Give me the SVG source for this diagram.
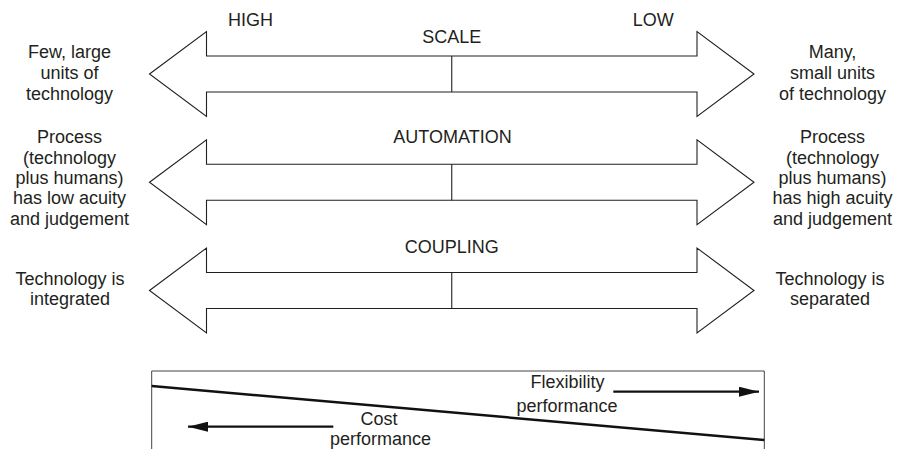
<svg xmlns="http://www.w3.org/2000/svg" width="903" height="449" viewBox="0 0 903 449">
  <style>
    .t { font-family: "Liberation Sans", Arial, sans-serif; font-size: 18px; fill: #231f20; text-anchor: middle; }
    .dbl { fill: #ffffff; stroke: #231f20; stroke-width: 1.1; stroke-linejoin: miter; }
    .tick { stroke: #231f20; stroke-width: 1.1; }
    .box { fill: none; stroke: #444; stroke-width: 1; }
    .diag { stroke: #111; stroke-width: 2.5; }
    .conn { stroke: #111; stroke-width: 2.2; fill: none; }
  </style>
  <defs>
    <polygon id="dblarrow" class="dbl" points="149.5,0 206.5,-42.5 206.5,-18 697,-18 697,-42.5 754,0 697,42.5 697,18 206.5,18 206.5,42.5"/>
    <marker id="ah" viewBox="0 0 20 10" refX="20" refY="5" markerWidth="20" markerHeight="10" markerUnits="userSpaceOnUse" orient="auto">
      <path d="M0,0 L20,5 L0,10 Z" fill="#111"/>
    </marker>
  </defs>
  <rect width="903" height="449" fill="#ffffff"/>

  <g id="labels-top">
    <text class="t" x="250.5" y="26">HIGH</text>
    <text class="t" x="653.3" y="26">LOW</text>
  </g>

  <g id="scale">
    <use href="#dblarrow" transform="translate(0,74)"/>
    <line class="tick" x1="451.75" y1="56" x2="451.75" y2="92"/>
    <text class="t" x="451.75" y="43.3">SCALE</text>
  </g>

  <g id="automation">
    <use href="#dblarrow" transform="translate(0,182.25)"/>
    <line class="tick" x1="451.75" y1="164.25" x2="451.75" y2="200.25"/>
    <text class="t" x="452.5" y="143.3">AUTOMATION</text>
  </g>

  <g id="coupling">
    <use href="#dblarrow" transform="translate(0,290.5)"/>
    <line class="tick" x1="451.75" y1="272.5" x2="451.75" y2="308.5"/>
    <text class="t" x="451.8" y="252.7">COUPLING</text>
  </g>

  <g id="left-scale">
    <text class="t" x="69.5" y="58.3">Few, large</text>
    <text class="t" x="69.5" y="79.3">units of</text>
    <text class="t" x="69.5" y="100.2">technology</text>
  </g>
  <g id="left-automation">
    <text class="t" x="69.5" y="143.3">Process</text>
    <text class="t" x="69.5" y="163.6">(technology</text>
    <text class="t" x="69.5" y="183.9">plus humans)</text>
    <text class="t" x="69.5" y="204.2">has low acuity</text>
    <text class="t" x="69.5" y="224.5">and judgement</text>
  </g>
  <g id="left-coupling">
    <text class="t" x="70" y="284.5">Technology is</text>
    <text class="t" x="70" y="305">integrated</text>
  </g>

  <g id="right-scale">
    <text class="t" x="832.5" y="58.3">Many,</text>
    <text class="t" x="832.5" y="79.3">small units</text>
    <text class="t" x="832.5" y="100.2">of technology</text>
  </g>
  <g id="right-automation">
    <text class="t" x="832.5" y="143.3">Process</text>
    <text class="t" x="832.5" y="163.6">(technology</text>
    <text class="t" x="832.5" y="183.9">plus humans)</text>
    <text class="t" x="832.5" y="204.2">has high acuity</text>
    <text class="t" x="832.5" y="224.5">and judgement</text>
  </g>
  <g id="right-coupling">
    <text class="t" x="830" y="284.5">Technology is</text>
    <text class="t" x="830" y="305">separated</text>
  </g>

  <g id="performance-box">
    <polyline class="box" points="151.7,449 151.7,371 764.3,371 764.3,449"/>
    <line class="diag" x1="151.7" y1="386" x2="764.3" y2="440"/>
    <text class="t" x="567.5" y="388.3">Flexibility</text>
    <text class="t" x="567" y="411.7">performance</text>
    <text class="t" x="379" y="424.5">Cost</text>
    <text class="t" x="380.5" y="444.8">performance</text>
  </g>

  <g id="connectors">
    <line class="conn" x1="613.3" y1="391.7" x2="759" y2="391.7" marker-end="url(#ah)"/>
    <line class="conn" x1="333.3" y1="426.7" x2="188" y2="426.7" marker-end="url(#ah)"/>
  </g>
</svg>
